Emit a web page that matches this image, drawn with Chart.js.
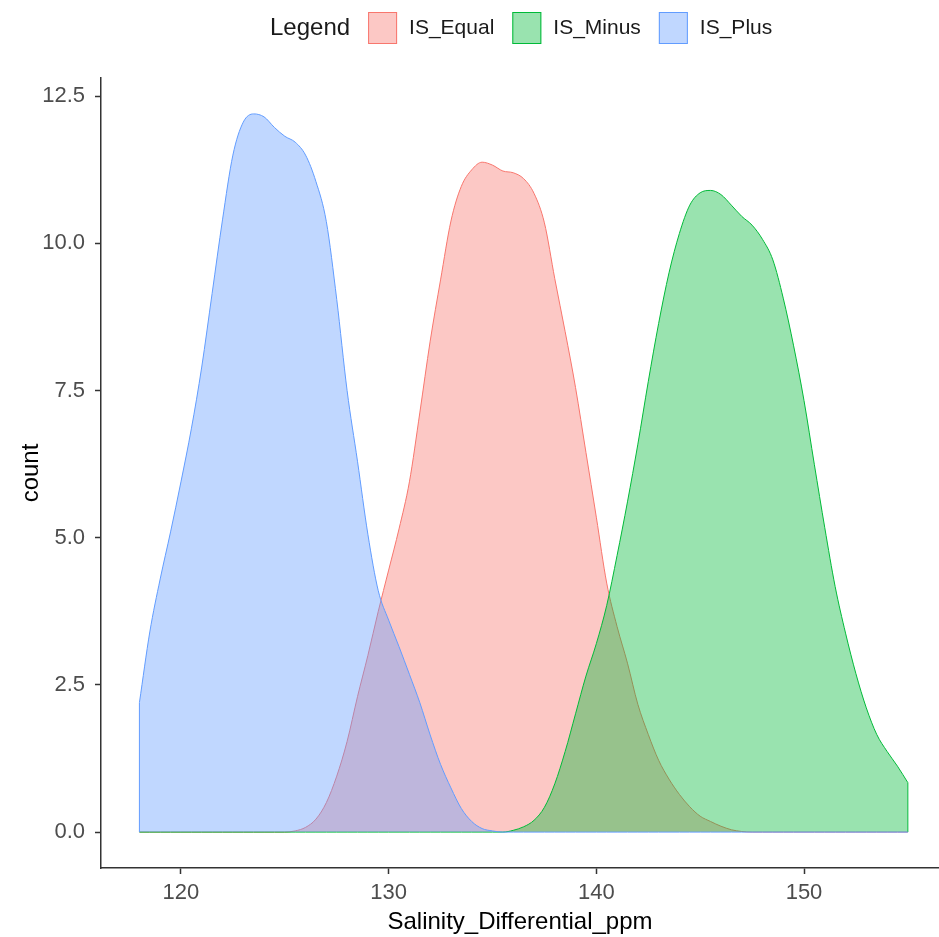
<!DOCTYPE html>
<html>
<head>
<meta charset="utf-8">
<title>Salinity differential density</title>
<script src="https://cdn.jsdelivr.net/npm/chart.js@4.4.0/dist/chart.umd.min.js"></script>
<style>
  html, body { margin: 0; padding: 0; background: #ffffff; }
  #wrap { width: 939px; height: 937px; }
</style>
</head>
<body>
<div id="wrap"><canvas id="densityChart" width="939" height="937"></canvas></div>
<script>
// density estimates (count scale) on a 0.5 ppm grid
const salinity = [
  118, 118.5, 119, 119.5, 120, 120.5, 121, 121.5, 122, 122.5,
  123, 123.5, 124, 124.5, 125, 125.5, 126, 126.5, 127, 127.5,
  128, 128.5, 129, 129.5, 130, 130.5, 131, 131.5, 132, 132.5,
  133, 133.5, 134, 134.5, 135, 135.5, 136, 136.5, 137, 137.5,
  138, 138.5, 139, 139.5, 140, 140.5, 141, 141.5, 142, 142.5,
  143, 143.5, 144, 144.5, 145, 145.5, 146, 146.5, 147, 147.5,
  148, 148.5, 149, 149.5, 150, 150.5, 151, 151.5, 152, 152.5,
  153, 153.5, 154, 154.5, 155
];

const isEqual = [
  0, 0, 0, 0, 0, 0, 0, 0, 0, 0,
  0, 0, 0, 0, 0, 0.02, 0.08, 0.22, 0.5, 0.95,
  1.54, 2.3, 3.0, 3.75, 4.45, 5.15, 5.95, 7.12, 8.34, 9.38,
  10.38, 10.97, 11.25, 11.38, 11.33, 11.23, 11.2, 11.1, 10.85, 10.35,
  9.4, 8.5, 7.55, 6.45, 5.35, 4.23, 3.49, 2.87, 2.17, 1.66,
  1.22, 0.9, 0.64, 0.43, 0.27, 0.18, 0.1, 0.04, 0.01, 0,
  0, 0, 0, 0, 0, 0, 0, 0, 0, 0,
  0, 0, 0, 0, 0
];

const isMinus = [
  0, 0, 0, 0, 0, 0, 0, 0, 0, 0,
  0, 0, 0, 0, 0, 0, 0, 0, 0, 0,
  0, 0, 0, 0, 0, 0, 0, 0, 0, 0,
  0, 0, 0, 0, 0, 0, 0.03, 0.09, 0.2, 0.42,
  0.82, 1.37, 2.01, 2.65, 3.2, 3.85, 4.7, 5.61, 6.59, 7.65,
  8.64, 9.5, 10.17, 10.65, 10.86, 10.9, 10.83, 10.65, 10.46, 10.31,
  10.07, 9.72, 9.07, 8.26, 7.33, 6.24, 5.17, 4.17, 3.38, 2.69,
  2.11, 1.66, 1.37, 1.12, 0.84
];

const isPlus = [
  2.2, 3.4, 4.3, 5.1, 5.95, 6.85, 7.9, 9.15, 10.4, 11.5,
  12.06, 12.2, 12.15, 11.97, 11.82, 11.72, 11.5, 11.05, 10.37, 9.05,
  7.5, 6.3, 5.06, 4.1, 3.6, 3.15, 2.68, 2.2, 1.65, 1.15,
  0.75, 0.4, 0.18, 0.06, 0.02, 0, 0, 0, 0, 0,
  0, 0, 0, 0, 0, 0, 0, 0, 0, 0,
  0, 0, 0, 0, 0, 0, 0, 0, 0, 0,
  0, 0, 0, 0, 0, 0, 0, 0, 0, 0,
  0, 0, 0, 0, 0
];

const xTicks = [120, 130, 140, 150];
const yTicks = [0, 2.5, 5, 7.5, 10, 12.5];

const FONT = '"Liberation Sans", Arial, sans-serif';
Chart.defaults.font.family = FONT;

const toPoints = ys => salinity.map((x, i) => ({ x: x, y: ys[i] }));

const series = [
  { label: 'IS_Equal', data: isEqual, rgb: '248, 118, 109', order: 3 },
  { label: 'IS_Minus', data: isMinus, rgb: '0, 186, 56', order: 2 },
  { label: 'IS_Plus', data: isPlus, rgb: '97, 156, 255', order: 1 }
];

// closes the outline down to the baseline where a curve starts or ends above zero
const edgeOutline = {
  id: 'edgeOutline',
  afterDatasetDraw(chart, args) {
    const pts = args.meta.data;
    if (!pts.length) return;
    const ds = chart.data.datasets[args.index];
    const base = chart.scales.y.getPixelForValue(0);
    const ctx = chart.ctx;
    ctx.save();
    ctx.strokeStyle = ds.borderColor;
    ctx.lineWidth = ds.borderWidth;
    [pts[0], pts[pts.length - 1]].forEach(p => {
      if (base - p.y > 0.5) {
        ctx.beginPath();
        ctx.moveTo(p.x, p.y);
        ctx.lineTo(p.x, base);
        ctx.stroke();
      }
    });
    ctx.restore();
  }
};

// ggplot-style legend on one row: title, then key + label per group
const rowLegend = {
  id: 'rowLegend',
  afterDraw(chart, args, opts) {
    const ctx = chart.ctx;
    const y = opts.y;
    let x = opts.x;
    ctx.save();
    ctx.textBaseline = 'middle';
    ctx.textAlign = 'left';
    ctx.fillStyle = '#1a1a1a';
    ctx.font = '24px ' + FONT;
    ctx.fillText(opts.title, x, y);
    x += ctx.measureText(opts.title).width + opts.gap;
    ctx.font = '21px ' + FONT;
    chart.data.datasets.forEach(ds => {
      ctx.fillStyle = '#ffffff';
      ctx.fillRect(x, y - opts.boxH / 2, opts.boxW, opts.boxH);
      ctx.fillStyle = ds.backgroundColor;
      ctx.fillRect(x, y - opts.boxH / 2, opts.boxW, opts.boxH);
      ctx.strokeStyle = ds.borderColor;
      ctx.lineWidth = 1;
      ctx.strokeRect(x + 0.5, y - opts.boxH / 2 + 0.5, opts.boxW - 1, opts.boxH - 1);
      x += opts.boxW + 12;
      ctx.fillStyle = '#1a1a1a';
      ctx.fillText(ds.label, x, y);
      x += ctx.measureText(ds.label).width + opts.gap;
    });
    ctx.restore();
  }
};

const ctx = document.getElementById('densityChart').getContext('2d');

new Chart(ctx, {
  type: 'line',
  data: {
    datasets: series.map(s => ({
      label: s.label,
      data: toPoints(s.data),
      order: s.order,
      fill: 'origin',
      backgroundColor: `rgba(${s.rgb}, 0.4)`,
      borderColor: `rgb(${s.rgb})`,
      borderWidth: 1,
      pointRadius: 0,
      cubicInterpolationMode: 'monotone'
    }))
  },
  plugins: [edgeOutline, rowLegend],
  options: {
    responsive: false,
    animation: false,
    layout: { padding: { top: 78, right: 0, bottom: 0, left: 0 } },
    plugins: {
      legend: { display: false },
      tooltip: { enabled: false },
      rowLegend: { title: 'Legend', x: 270, y: 28, gap: 18, boxW: 29, boxH: 32 }
    },
    scales: {
      x: {
        type: 'linear',
        min: 116.15,
        max: 156.5,
        afterBuildTicks: scale => { scale.ticks = xTicks.map(v => ({ value: v })); },
        afterFit: scale => { scale.height = 69; },
        grid: { drawOnChartArea: false, drawTicks: true, tickLength: 6, tickWidth: 1.5, tickColor: '#333333' },
        border: { display: true, color: '#333333', width: 1.5 },
        ticks: { color: '#4d4d4d', font: { size: 22 }, padding: 6, autoSkip: false, maxRotation: 0,
                 callback: v => String(v) },
        title: { display: true, text: 'Salinity_Differential_ppm', color: '#000000',
                 font: { size: 24 }, padding: { top: 0, bottom: 0 } }
      },
      y: {
        min: -0.61,
        max: 12.81,
        afterBuildTicks: scale => { scale.ticks = yTicks.map(v => ({ value: v })); },
        afterFit: scale => { scale.width = 101; },
        grid: { drawOnChartArea: false, drawTicks: true, tickLength: 6, tickWidth: 1.5, tickColor: '#333333' },
        border: { display: true, color: '#333333', width: 1.5 },
        ticks: { color: '#4d4d4d', font: { size: 22 }, padding: 10,
                 callback: v => Number(v).toFixed(1) },
        title: { display: true, text: 'count', color: '#000000',
                 font: { size: 24 }, padding: { top: 17, bottom: 0 } }
      }
    }
  }
});
</script>
</body>
</html>
